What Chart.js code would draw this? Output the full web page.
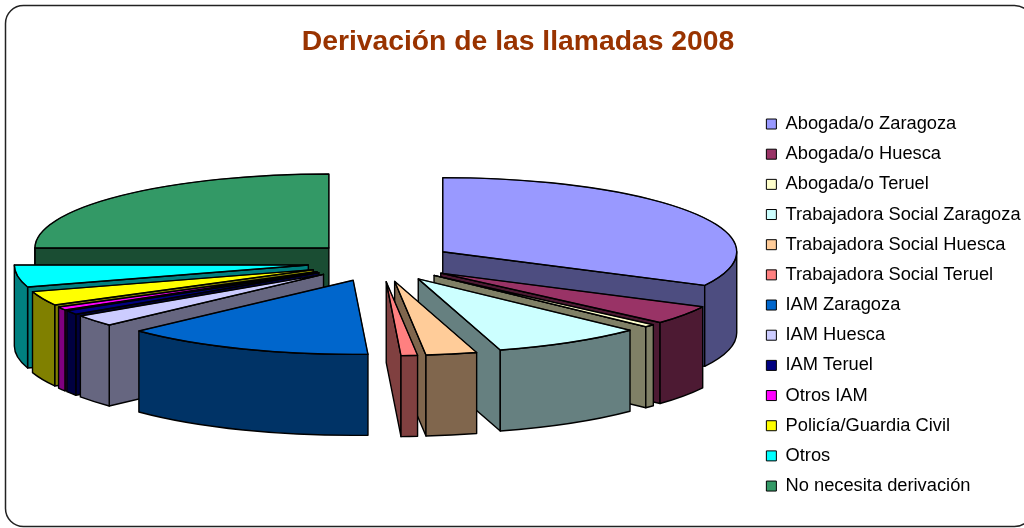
<!DOCTYPE html>
<html>
<head>
<meta charset="utf-8">
<title>Derivación de las llamadas 2008</title>
<script src="https://cdn.jsdelivr.net/npm/chart.js@4"></script>
<style>
    html, body { margin: 0; padding: 0; background: #fff; overflow: hidden; }
    #wrap { position: relative; width: 1024px; height: 528px; }
</style>
</head>
<body>
<div id="wrap"><canvas id="pieChart"></canvas></div>
<script>
const categories = ['Abogada/o Zaragoza', 'Abogada/o Huesca', 'Abogada/o Teruel', 'Trabajadora Social Zaragoza',
    'Trabajadora Social Huesca', 'Trabajadora Social Teruel', 'IAM Zaragoza', 'IAM Huesca', 'IAM Teruel',
    'Otros IAM', 'Policía/Guardia Civil', 'Otros', 'No necesita derivación'];
const values = [32.5, 4.1, 0.6, 8.3, 2.8, 0.9, 13.8, 2.5, 0.9, 0.7, 3.1, 4.8, 25];
const topColors = ['#9999FF', '#993366', '#FFFFCC', '#CCFFFF', '#FFCC99', '#FF8080', '#0066CC', '#CCCCFF', '#000080',
    '#FF00FF', '#FFFF00', '#00FFFF', '#339966'];
const wallColors = ['#4D4D80', '#4D1A33', '#808066', '#668080', '#80664D', '#804040', '#003366', '#666680', '#000040',
    '#800080', '#808000', '#008080', '#1A4D33'];

// 3D look: where the pie sits, how flat it is, how far slices are pulled out, how thick it is
const centerX = 380.5, centerY = 262, flat = 0.252, explode = 73, explodeFlat = 0.27, depth = 81;

function slicePos(arc) {
    const mid = (arc.startAngle + arc.endAngle) / 2;
    return { x: centerX + Math.cos(mid) * explode, y: centerY + Math.sin(mid) * explode * explodeFlat };
}

function drawWalls(ctx, arc, color) {
    const p = slicePos(arc), r = arc.outerRadius, a = arc.startAngle, b = arc.endAngle;
    const rim = ang => ({ x: p.x + Math.cos(ang) * r, y: p.y + Math.sin(ang) * r * flat });
    ctx.fillStyle = color;
    const cut = ang => {
        const e = rim(ang);
        ctx.beginPath();
        ctx.moveTo(p.x, p.y);
        ctx.lineTo(e.x, e.y);
        ctx.lineTo(e.x, e.y + depth);
        ctx.lineTo(p.x, p.y + depth);
        ctx.closePath();
        ctx.fill();
        ctx.stroke();
    };
    if (-Math.cos(a) > 0) cut(a);
    if (Math.cos(b) > 0) cut(b);
    // outer wall only where it faces the viewer
    const from = Math.max(a, 0), to = Math.min(b, Math.PI);
    if (to > from) {
        ctx.beginPath();
        ctx.ellipse(p.x, p.y, r, r * flat, 0, from, to);
        ctx.ellipse(p.x, p.y + depth, r, r * flat, 0, to, from, true);
        ctx.closePath();
        ctx.fill();
        ctx.stroke();
    }
}

const pie3d = {
    id: 'pie3d',
    beforeDraw(chart) {
        const ctx = chart.ctx;
        ctx.save();
        ctx.strokeStyle = '#222';
        ctx.lineWidth = 1.5;
        ctx.beginPath();
        ctx.roundRect(5.5, 5.5, 1027, 521, 18);
        ctx.stroke();
        ctx.restore();
    },
    afterLayout(chart) {
        // the legend is a bit wider than the space the layout gives it
        chart.legend.left = 754.5;
        chart.legend.top = 103;
    },
    beforeDatasetDraw(chart) {
        const ctx = chart.ctx;
        const arcs = chart.getDatasetMeta(0).data;
        ctx.save();
        ctx.strokeStyle = '#000';
        ctx.lineWidth = 1.4;
        ctx.lineJoin = 'round';
        // walls, back to front
        const order = arcs.map((arc, i) => i).sort((i, j) =>
            slicePos(arcs[i]).y - slicePos(arcs[j]).y);
        order.forEach(i => drawWalls(ctx, arcs[i], wallColors[i]));
        // top faces are the library's own arcs, squashed
        arcs.forEach(arc => {
            const p = slicePos(arc);
            ctx.save();
            ctx.translate(p.x, p.y);
            ctx.scale(1, flat);
            ctx.translate(-arc.x, -arc.y);
            arc.draw(ctx);
            ctx.restore();
            ctx.beginPath();
            ctx.moveTo(p.x, p.y);
            ctx.ellipse(p.x, p.y, arc.outerRadius, arc.outerRadius * flat, 0, arc.startAngle, arc.endAngle);
            ctx.closePath();
            ctx.stroke();
        });
        ctx.restore();
        return false;
    }
};

new Chart(document.getElementById('pieChart').getContext('2d'), {
    type: 'pie',
    data: {
        labels: categories,
        datasets: [{
            data: values,
            backgroundColor: topColors,
            borderColor: '#000',
            borderWidth: 1
        }]
    },
    options: {
        responsive: true,
        maintainAspectRatio: false,
        animation: false,
        radius: 294,
        layout: { padding: { left: 12 } },
        plugins: {
            title: {
                display: true,
                text: 'Derivación de las llamadas 2008',
                color: '#993300',
                font: { family: '"Liberation Sans"', size: 28.3, weight: 'bold' },
                padding: { top: 25, bottom: 20 }
            },
            legend: {
                position: 'right',
                align: 'start',
                labels: {
                    color: '#000',
                    font: { family: '"Liberation Sans"', size: 18.3 },
                    boxWidth: 10,
                    boxHeight: 10,
                    padding: 11.87
                }
            },
            tooltip: { enabled: false }
        }
    },
    plugins: [pie3d]
});
</script>
</body>
</html>
